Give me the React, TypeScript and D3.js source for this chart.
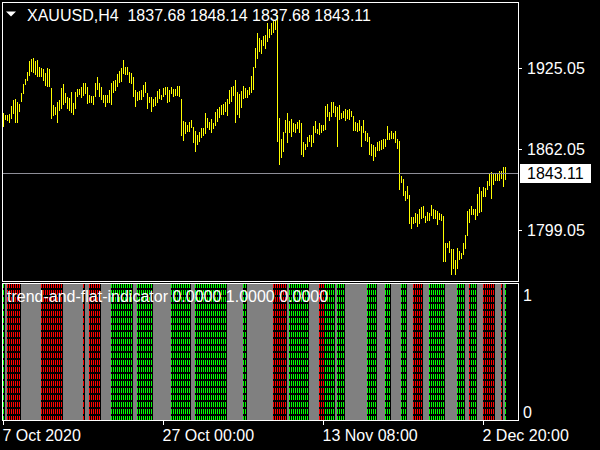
import React from "react";
import * as d3 from "d3";

const symbolName = "XAUUSD,H4";
const lastOHLC = ["1837.68", "1848.14", "1837.68", "1843.11"];
const lastPrice = 1843.11;

const barHighs = [
  1890.4, 1888.9, 1888.4, 1889.4, 1895.7, 1900.4, 1901.4, 1898.8, 1897.2, 1906.0,
  1912.8, 1917.0, 1922.2, 1930.5, 1932.1, 1933.1, 1931.0, 1931.5, 1925.8, 1925.3,
  1924.7, 1921.6, 1925.3, 1924.7, 1909.7, 1896.2, 1895.1, 1898.8, 1900.4, 1909.7,
  1912.8, 1905.6, 1902.5, 1901.9, 1906.6, 1898.3, 1906.6, 1908.7, 1909.2, 1910.3,
  1913.4, 1913.8, 1910.7, 1904.0, 1903.5, 1903.5, 1913.4, 1918.5, 1913.4, 1910.7,
  1904.5, 1904.0, 1904.5, 1908.1, 1913.4, 1914.9, 1915.9, 1920.6, 1923.2, 1925.3,
  1931.5, 1926.3, 1926.3, 1922.2, 1921.2, 1918.5, 1908.1, 1906.6, 1907.1, 1908.1,
  1911.8, 1914.4, 1906.0, 1902.9, 1902.5, 1900.9, 1902.9, 1907.1, 1908.7, 1904.5,
  1909.7, 1910.7, 1910.3, 1908.1, 1910.7, 1908.7, 1909.2, 1911.3, 1911.3, 1901.1,
  1884.0, 1883.0, 1880.9, 1883.4, 1885.0, 1879.3, 1876.2, 1873.1, 1875.7, 1878.3,
  1878.8, 1890.2, 1886.1, 1883.4, 1885.5, 1882.4, 1891.2, 1893.3, 1894.9, 1896.5,
  1897.5, 1899.0, 1901.1, 1907.9, 1910.5, 1911.0, 1916.2, 1906.8, 1904.8, 1907.4,
  1911.0, 1909.5, 1908.4, 1910.5, 1918.8, 1926.1, 1941.1, 1952.6, 1948.9, 1947.3,
  1950.0, 1951.0, 1960.4, 1955.7, 1960.4, 1961.9, 1962.9, 1966.6, 1886.3, 1870.2,
  1875.4, 1884.8, 1890.0, 1884.2, 1885.3, 1882.7, 1881.7, 1883.2, 1884.8, 1882.7,
  1867.6, 1866.1, 1871.3, 1873.3, 1872.8, 1880.1, 1883.8, 1877.5, 1882.2, 1881.1,
  1881.1, 1895.7, 1897.2, 1891.0, 1898.8, 1898.8, 1895.7, 1894.7, 1896.2, 1890.4,
  1892.0, 1893.1, 1892.6, 1893.1, 1892.0, 1887.9, 1883.2, 1882.2, 1884.8, 1880.1,
  1884.8, 1876.0, 1874.4, 1871.8, 1866.1, 1865.5, 1864.0, 1867.6, 1868.2, 1869.2,
  1869.7, 1870.2, 1880.1, 1874.9, 1876.4, 1874.4, 1876.0, 1869.7, 1868.6, 1841.1,
  1839.0, 1829.7, 1833.3, 1826.6, 1809.4, 1809.0, 1812.1, 1811.5, 1815.7, 1817.2,
  1817.8, 1810.0, 1813.1, 1812.5, 1818.8, 1815.7, 1814.6, 1813.6, 1812.1, 1811.5,
  1810.0, 1789.2, 1789.2, 1790.7, 1784.0, 1784.5, 1775.7, 1785.0, 1782.5, 1781.4,
  1789.2, 1795.4, 1814.1, 1815.7, 1817.8, 1815.7, 1815.2, 1827.1, 1832.3, 1829.7,
  1832.3, 1831.8, 1837.5, 1843.7, 1844.3, 1843.2, 1842.7, 1842.7, 1845.3, 1844.8,
  1847.9, 1848.14,
];

const barLows = [
  1879.1, 1884.8, 1884.2, 1882.7, 1885.3, 1889.4, 1882.7, 1882.2, 1891.0, 1898.8,
  1905.0, 1911.8, 1915.4, 1919.1, 1922.2, 1921.6, 1920.1, 1918.5, 1918.0, 1918.5,
  1914.9, 1911.3, 1910.3, 1910.3, 1885.8, 1887.9, 1888.9, 1882.2, 1891.6, 1893.6,
  1896.2, 1897.8, 1893.6, 1891.6, 1890.4, 1888.9, 1893.1, 1902.5, 1904.0, 1901.9,
  1903.5, 1905.0, 1897.2, 1897.8, 1897.8, 1896.7, 1902.5, 1908.1, 1902.9, 1900.4,
  1898.3, 1894.7, 1898.3, 1897.8, 1896.7, 1905.6, 1907.6, 1910.7, 1913.8, 1914.4,
  1920.6, 1919.6, 1920.1, 1913.4, 1912.8, 1902.5, 1894.7, 1899.8, 1900.4, 1900.4,
  1902.9, 1905.6, 1893.6, 1898.3, 1891.0, 1894.7, 1895.7, 1898.3, 1900.9, 1900.4,
  1902.9, 1904.0, 1898.3, 1898.8, 1905.0, 1902.5, 1903.5, 1903.5, 1902.5, 1872.1,
  1868.4, 1873.6, 1875.7, 1875.7, 1878.3, 1866.8, 1860.1, 1865.3, 1867.4, 1870.5,
  1872.5, 1874.1, 1878.3, 1876.7, 1874.6, 1877.8, 1880.3, 1883.4, 1886.6, 1888.7,
  1888.7, 1891.2, 1888.1, 1897.0, 1899.0, 1903.2, 1882.4, 1888.7, 1886.1, 1893.9,
  1901.1, 1901.7, 1902.1, 1904.2, 1905.8, 1908.4, 1925.1, 1932.3, 1938.0, 1936.0,
  1942.2, 1940.1, 1945.8, 1948.4, 1951.0, 1952.6, 1954.7, 1867.9, 1849.7, 1854.9,
  1859.8, 1874.4, 1867.1, 1874.4, 1871.8, 1875.4, 1874.4, 1877.5, 1874.4, 1857.7,
  1856.2, 1861.4, 1863.5, 1867.6, 1863.5, 1867.1, 1874.4, 1873.9, 1873.3, 1874.9,
  1876.0, 1877.0, 1887.3, 1884.2, 1887.3, 1890.0, 1887.3, 1864.0, 1884.8, 1885.3,
  1886.3, 1884.2, 1885.3, 1884.8, 1887.3, 1876.4, 1876.0, 1875.4, 1876.0, 1863.5,
  1874.4, 1868.6, 1867.6, 1857.7, 1856.7, 1852.6, 1855.7, 1860.4, 1860.4, 1861.4,
  1862.4, 1864.0, 1869.2, 1869.2, 1869.7, 1870.2, 1866.6, 1862.4, 1830.2, 1835.4,
  1825.6, 1821.4, 1823.4, 1803.7, 1800.1, 1803.7, 1804.7, 1801.6, 1803.7, 1807.4,
  1808.4, 1804.3, 1806.3, 1806.3, 1810.0, 1807.9, 1807.9, 1802.7, 1806.8, 1805.8,
  1774.1, 1774.1, 1785.0, 1780.9, 1764.2, 1768.9, 1764.2, 1768.9, 1775.7, 1776.2,
  1779.3, 1784.5, 1794.4, 1804.7, 1811.0, 1810.5, 1806.8, 1810.0, 1812.5, 1813.1,
  1825.0, 1825.0, 1830.2, 1833.3, 1823.4, 1834.4, 1837.5, 1837.5, 1837.5, 1838.6,
  1832.3, 1837.68,
];

// 1 = trend up (lime), -1 = trend down (red), 0 = flat (gray)
const trendState = [
  1, 0, -1, -1, -1, -1, -1, -1, -1, 0,
  0, 0, 0, 0, 0, 0, 0, 0, 0, -1,
  -1, -1, -1, -1, -1, -1, -1, -1, -1, -1,
  0, 0, 0, 0, 0, 0, 0, 0, 0, 0,
  -1, 0, 0, -1, -1, -1, -1, -1, -1, 0,
  0, 0, 0, 0, 1, 1, 1, 1, 1, 1,
  1, 1, 1, 1, 1, 0, 0, 1, 1, 1,
  1, 1, 1, 1, 1, 0, 0, 0, 0, 0,
  0, 0, 0, 0, 1, 1, 1, 1, 1, 1,
  1, 1, 1, 1, 0, 0, 1, 1, 1, 1,
  1, 1, 1, 1, 1, 1, 1, 1, 1, 1,
  1, 1, 0, 0, 0, 0, 0, 0, 0, 0,
  1, 1, 0, 0, 0, 0, 0, 0, 0, 0,
  0, 0, 0, 0, 0, -1, -1, -1, -1, -1,
  -1, -1, 0, 1, 1, 1, 1, 1, 1, 1,
  1, 1, 1, 0, 0, 0, 0, 0, -1, -1,
  -1, 1, 1, 1, 1, 1, 0, 1, 1, 1,
  1, 0, 0, 0, 0, 0, 0, 0, 0, 0,
  0, 0, 1, 1, 1, 1, 1, 0, 0, 0,
  0, 1, 1, 1, 0, 0, 0, 0, 0, 1,
  1, 1, 0, 0, 0, -1, -1, -1, -1, -1,
  0, 0, 0, 1, 1, 1, 1, 1, 1, 1,
  1, 0, 0, 0, 0, 0, 0, 1, 1, 1,
  1, 0, 0, -1, 1, 1, 1, 0, 0, 0,
  -1, -1, -1, -1, -1, -1, 0, 0, 0, -1,
  0, 1,
];

const priceTicks = [1925.05, 1862.05, 1799.05];
const timeLabels = ["7 Oct 2020", "27 Oct 00:00", "13 Nov 08:00", "2 Dec 20:00"];
const timeLabelBars = [0, 80, 160, 240];
const indicatorName = "trend-and-flat-indicator";
const indicatorValues = ["0.0000", "1.0000", "0.0000"];
const indicatorTicks = [1, 0];

const FONT = "'Liberation Sans', Arial, sans-serif";
const BAR_COLOR = "#FFFF00";
const UP_COLOR = "#00FF00";
const DOWN_COLOR = "#FF0000";
const FLAT_COLOR = "#808080";

export default function App() {
  const W = 600;
  const H = 450;
  const left = 2.5;
  const right = 518.5;
  const mainTop = 2.5;
  const mainBottom = 281.5;
  const indTop = 283.5;
  const indBottom = 420.5;

  const n = barHighs.length;
  const x = d3.scaleLinear().domain([0, n - 1]).range([3, 505]);
  const y = d3.scaleLinear().domain([1759.3, 1975.9]).range([281, 3]);
  const yInd = d3.scaleLinear().domain([0, 1]).range([411.7, 295]);

  const lastY = Math.round(y(lastPrice)) + 0.5;

  return (
    <svg
      width={W}
      height={H}
      style={{ position: "fixed", left: 0, top: 0, display: "block" }}
      fontFamily={FONT}
    >
      <rect x={0} y={0} width={W} height={H} fill="#000" />

      {/* indicator bars */}
      <g shapeRendering="crispEdges">
        {trendState.map((s, i) =>
          s === 0 ? (
            <rect key={i} x={x(i)} y={284} width={2} height={136} fill={FLAT_COLOR} />
          ) : (
            <line
              key={i}
              x1={x(i) + 0.5}
              x2={x(i) + 0.5}
              y1={284}
              y2={420}
              stroke={s > 0 ? UP_COLOR : DOWN_COLOR}
              strokeWidth={1}
              strokeDasharray="5,2"
              strokeDashoffset={1}
            />
          )
        )}
      </g>

      {/* price bars */}
      <g shapeRendering="crispEdges">
        {barHighs.map((h, i) => {
          const yt = Math.round(y(h));
          const yb = Math.round(y(barLows[i]));
          return (
            <rect key={i} x={x(i)} y={yt} width={1} height={Math.max(1, yb - yt)} fill={BAR_COLOR} />
          );
        })}
      </g>

      {/* last price line */}
      <line x1={3} x2={518} y1={lastY} y2={lastY} stroke="#8E8E98" strokeWidth={1} shapeRendering="crispEdges" />

      {/* frames */}
      <g fill="none" stroke="#fff" strokeWidth={1} shapeRendering="crispEdges">
        <rect x={left} y={mainTop} width={right - left} height={mainBottom - mainTop} />
        <rect x={left} y={indTop} width={right - left} height={indBottom - indTop} />
      </g>

      {/* price axis */}
      {priceTicks.map((p) => {
        const py = Math.round(y(p)) + 0.5;
        return (
          <g key={p}>
            <line x1={518} x2={522} y1={py} y2={py} stroke="#fff" shapeRendering="crispEdges" />
            <text x={527} y={py + 5.8} fill="#fff" fontSize={16}>
              {p.toFixed(2)}
            </text>
          </g>
        );
      })}
      <rect x={520} y={lastY - 9.5} width={71} height={19} fill="#fff" />
      <text x={527} y={lastY + 5.8} fill="#000" fontSize={16}>
        {lastPrice.toFixed(2)}
      </text>

      {/* indicator axis */}
      {indicatorTicks.map((v) => (
        <text key={v} x={523} y={yInd(v) + 5.8} fill="#fff" fontSize={16}>
          {String(v)}
        </text>
      ))}

      {/* time axis */}
      {timeLabels.map((t, k) => {
        const tx = x(timeLabelBars[k]);
        return (
          <g key={t}>
            <line x1={tx + 0.5} x2={tx + 0.5} y1={421} y2={425} stroke="#fff" shapeRendering="crispEdges" />
            <text x={tx - 0.5} y={440.5} fill="#fff" fontSize={16}>
              {t}
            </text>
          </g>
        );
      })}

      {/* title */}
      <path d="M6,11.5 L16,11.5 L11,16.5 Z" fill="#fff" />
      <text x={27} y={20.5} fill="#fff" fontSize={16} style={{ whiteSpace: "pre" }}>
        {`${symbolName}  ${lastOHLC.join(" ")}`}
      </text>

      {/* indicator label */}
      <text x={7} y={302} fill="#fff" fontSize={16} style={{ whiteSpace: "pre" }}>
        {`${indicatorName} ${indicatorValues.join(" ")}`}
      </text>
    </svg>
  );
}
